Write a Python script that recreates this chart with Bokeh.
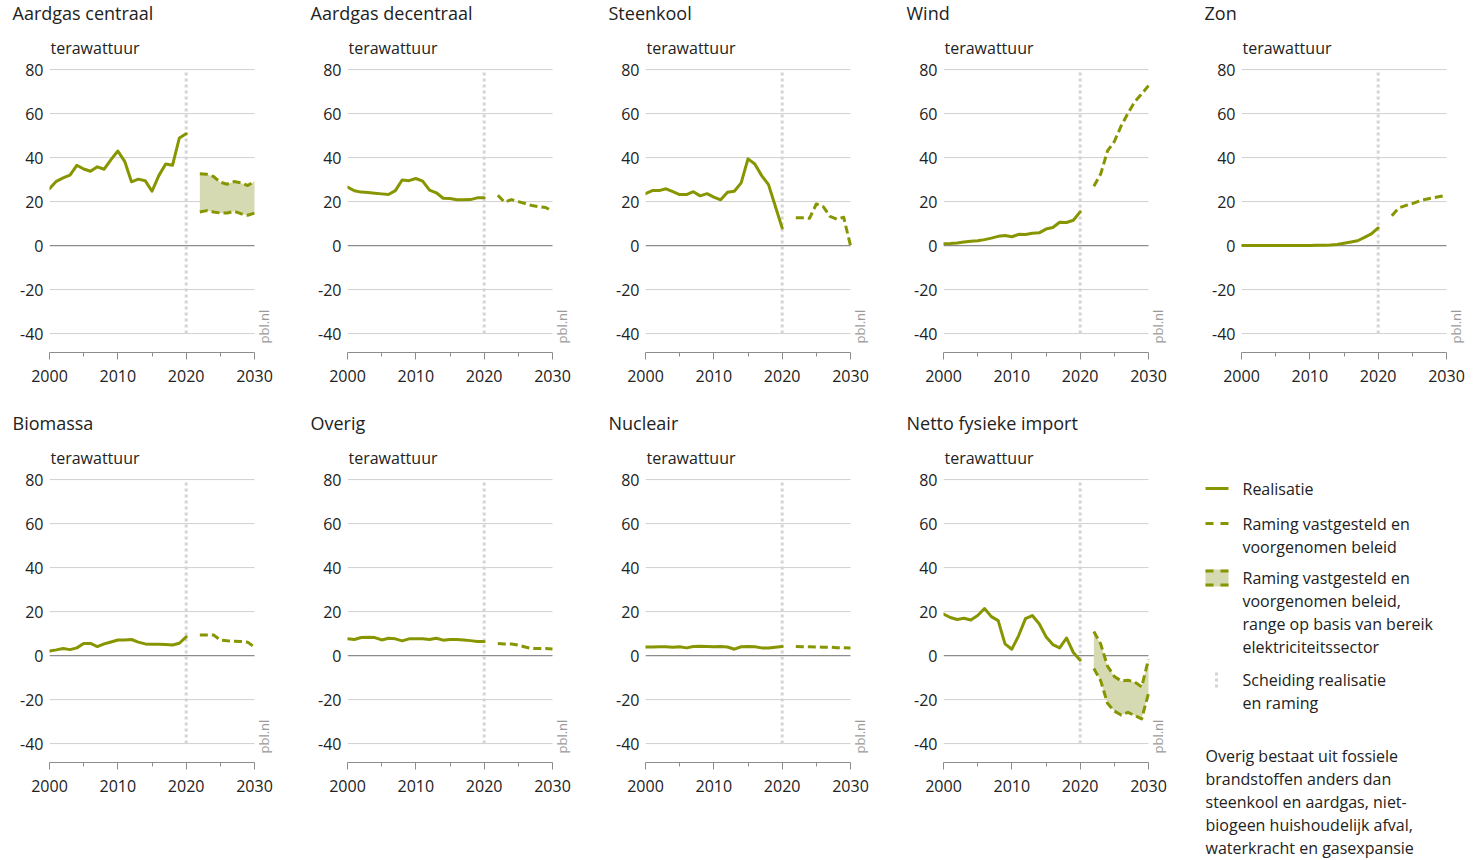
import math
from bokeh.plotting import figure
from bokeh.layouts import row, column
from bokeh.models import Range1d, Label, FixedTicker, Title
from bokeh.embed import file_html
from bokeh.resources import INLINE

FONT = "Open Sans"
GREEN = "#879600"
FILL = "#d6dab2"
TEXT = "#222222"
GRID = "#d0d0d0"
ZERO = "#8c8c8c"
SPLIT = "#d4d4d4"

YEARS_HIST = list(range(2000, 2021))
YEARS_PROJ = list(range(2022, 2031))
SPLIT_YEAR = 2020
X_START, X_STOP = 2000, 2030
X_TICKS = [2000, 2010, 2020, 2030]
X_MINOR = [2005, 2015, 2025]
Y_TICKS = [-40, -20, 0, 20, 40, 60, 80]
GRID_TICKS = [-40, -20, 20, 40, 60, 80]

titles = ["Aardgas centraal", "Aardgas decentraal", "Steenkool", "Wind", "Zon",
          "Biomassa", "Overig", "Nucleair", "Netto fysieke import"]

aardgas_centraal_hist = [25.9, 29.2, 30.8, 32.0, 36.5, 34.8, 33.8, 35.8, 34.7, 39.1, 43.0,
                         38.3, 29.0, 30.2, 29.5, 24.7, 31.8, 37.1, 36.5, 48.9, 50.8]
aardgas_centraal_hi = [32.6, 32.4, 31.4, 28.8, 27.9, 29.1, 28.5, 27.3, 29.2]
aardgas_centraal_lo = [15.3, 15.9, 15.3, 14.8, 14.8, 15.6, 14.5, 13.8, 14.8]

aardgas_decentraal_hist = [26.6, 24.9, 24.3, 24.1, 23.8, 23.5, 23.2, 25.0, 29.8, 29.5, 30.5,
                           29.3, 25.2, 24.0, 21.5, 21.4, 20.8, 20.8, 20.9, 21.7, 21.7]
aardgas_decentraal_proj = [22.9, 19.7, 20.9, 20.0, 19.1, 18.2, 17.7, 17.3, 15.6]

steenkool_hist = [23.6, 25.0, 25.0, 25.8, 24.5, 23.2, 23.2, 24.5, 22.6, 23.6, 22.0,
                  20.8, 24.2, 24.7, 28.5, 39.4, 37.1, 31.8, 27.7, 17.9, 8.0]
steenkool_proj = [12.7, 12.6, 12.4, 18.9, 17.7, 13.3, 12.0, 12.9, 0.0]

wind_hist = [0.8, 0.9, 1.2, 1.6, 2.0, 2.2, 2.7, 3.4, 4.2, 4.6, 4.0,
             5.1, 5.0, 5.6, 5.8, 7.5, 8.2, 10.6, 10.5, 11.5, 15.3]
wind_proj = [27.0, 32.5, 43.0, 47.3, 54.4, 60.2, 65.4, 68.9, 72.7]

zon_hist = [0.0, 0.0, 0.0, 0.0, 0.0, 0.0, 0.0, 0.05, 0.05, 0.05, 0.05,
            0.1, 0.2, 0.3, 0.5, 1.1, 1.6, 2.2, 3.7, 5.3, 8.0]
zon_proj = [13.6, 17.1, 18.2, 19.1, 20.2, 21.1, 21.7, 22.3, 22.9]

biomassa_hist = [2.1, 2.6, 3.2, 2.7, 3.5, 5.5, 5.5, 4.1, 5.3, 6.2, 7.1,
                 7.1, 7.3, 6.1, 5.3, 5.2, 5.2, 5.0, 4.8, 5.6, 8.5]
biomassa_proj = [9.4, 9.4, 9.4, 7.0, 6.7, 6.5, 6.4, 6.1, 3.8]

overig_hist = [7.6, 7.3, 8.2, 8.3, 8.2, 7.1, 7.9, 7.6, 6.7, 7.6, 7.7,
               7.7, 7.3, 7.9, 7.0, 7.3, 7.3, 7.1, 6.8, 6.4, 6.4]
overig_proj = [5.5, 5.3, 5.3, 4.8, 3.9, 3.2, 3.2, 3.2, 3.0]

nucleair_hist = [3.9, 3.9, 4.0, 4.0, 3.8, 4.0, 3.5, 4.1, 4.2, 4.1, 4.0,
                 4.1, 3.9, 2.9, 4.0, 4.1, 4.0, 3.5, 3.4, 3.8, 4.1]
nucleair_proj = [4.1, 4.0, 4.0, 3.9, 3.8, 3.8, 3.6, 3.6, 3.5]

import_hist = [18.9, 17.3, 16.4, 17.0, 16.2, 18.2, 21.4, 17.7, 15.9, 5.3, 2.9,
               9.1, 16.8, 18.2, 14.5, 8.6, 5.0, 3.5, 8.0, 1.4, -2.1]
import_hi = [10.9, 5.3, -4.8, -9.5, -11.5, -11.2, -12.1, -14.2, -1.7]
import_lo = [-5.9, -11.4, -21.7, -25.2, -27.0, -25.8, -27.3, -28.8, -17.1]

legend_labels = [["Realisatie"],
                 ["Raming vastgesteld en", "voorgenomen beleid"],
                 ["Raming vastgesteld en", "voorgenomen beleid,",
                  "range op basis van bereik", "elektriciteitssector"],
                 ["Scheiding realisatie", "en raming"]]
note_lines = ["Overig bestaat uit fossiele", "brandstoffen anders dan",
              "steenkool en aardgas, niet-", "biogeen huishoudelijk afval,",
              "waterkracht en gasexpansie"]

# layout constants (pixels)
PANEL_H = 410
BORDER_L = 49
BORDER_T = 26
BORDER_B = 58
FRAME_W = 205
PX_PER_YEAR = FRAME_W / (X_STOP - X_START)
PX_PER_UNIT = 2.2
Y_MIN = -48.6
Y_TOP = Y_MIN + (PANEL_H - BORDER_T - BORDER_B) / PX_PER_UNIT


def panel(title, hist, proj=None, lo=None, hi=None, width=298):
    x_end = X_STOP + (width - BORDER_L - FRAME_W) / PX_PER_YEAR
    p = figure(width=width, height=PANEL_H, x_range=Range1d(X_START, x_end),
               y_range=Range1d(Y_MIN, Y_TOP), output_backend="svg",
               toolbar_location=None, title=None,
               min_border_left=BORDER_L, min_border_right=0,
               min_border_top=BORDER_T, min_border_bottom=BORDER_B)
    p.outline_line_color = None
    p.background_fill_color = "white"
    p.border_fill_color = "white"
    p.xgrid.visible = False
    p.ygrid.visible = False

    xa = p.xaxis[0]
    xa.bounds = (X_START, X_STOP)
    xa.ticker = FixedTicker(ticks=X_TICKS, minor_ticks=X_MINOR)
    xa.axis_line_color = ZERO
    xa.major_tick_line_color = ZERO
    xa.minor_tick_line_color = ZERO
    xa.major_tick_in = 0
    xa.major_tick_out = 7
    xa.minor_tick_in = 0
    xa.minor_tick_out = 4
    xa.major_label_standoff = 10
    xa.major_label_text_font = FONT
    xa.major_label_text_font_size = "16px"
    xa.major_label_text_color = TEXT

    ya = p.yaxis[0]
    ya.ticker = FixedTicker(ticks=Y_TICKS)
    ya.axis_line_color = None
    ya.major_tick_line_color = None
    ya.minor_tick_line_color = None
    ya.major_tick_out = 0
    ya.major_tick_in = 0
    ya.minor_tick_out = 0
    ya.minor_tick_in = 0
    ya.major_label_standoff = 6
    ya.major_label_overrides = {t: str(t) for t in Y_TICKS}
    ya.major_label_text_font = FONT
    ya.major_label_text_font_size = "16px"
    ya.major_label_text_color = TEXT

    # horizontal grid lines limited to the year span
    n = len(GRID_TICKS)
    p.segment(x0=[X_START] * n, x1=[X_STOP] * n, y0=GRID_TICKS, y1=GRID_TICKS,
              line_color=GRID, line_width=1)
    p.segment(x0=[X_START], x1=[X_STOP], y0=[0], y1=[0],
              line_color=ZERO, line_width=1.3)
    p.segment(x0=[SPLIT_YEAR], y0=[Y_TICKS[0]], x1=[SPLIT_YEAR], y1=[Y_TICKS[-1]],
              line_color=SPLIT, line_width=3, line_dash="3 3")

    if lo is not None and hi is not None:
        p.varea(x=YEARS_PROJ, y1=lo, y2=hi, fill_color=FILL)
        for arr in (lo, hi):
            p.line(YEARS_PROJ, arr, line_color=GREEN, line_width=3,
                   line_dash="8 4", line_join="round")
    if proj is not None:
        p.line(YEARS_PROJ, proj, line_color=GREEN, line_width=3,
               line_dash="8 4", line_join="round")
    p.line(YEARS_HIST, hist, line_color=GREEN, line_width=3,
           line_join="round", line_cap="round")

    p.add_layout(Title(text=title, align="left", offset=-37, text_font=FONT,
                       text_font_size="18px", text_font_style="normal",
                       vertical_align="top", standoff=0,
                       text_color=TEXT), "above")
    p.add_layout(Label(x=X_START, y=Y_TICKS[-1], x_offset=1, y_offset=22,
                       text="terawattuur", text_font=FONT, text_font_size="16px",
                       text_color=TEXT, text_baseline="alphabetic"))
    p.add_layout(Label(x=X_STOP, y=-44.5, x_offset=9, angle=math.pi / 2,
                       text="pbl.nl", text_font=FONT, text_font_size="13px",
                       text_color="#9a9a9a", text_baseline="middle",
                       text_align="left"))
    return p


def legend_fig(width=285, height=450):
    p = figure(width=width, height=height, x_range=Range1d(0, width),
               y_range=Range1d(height, 0), output_backend="svg",
               toolbar_location=None, x_axis_type=None, y_axis_type=None,
               title=None, min_border=0, min_border_left=0, min_border_right=0,
               min_border_top=0, min_border_bottom=0)
    p.outline_line_color = None
    p.xgrid.visible = False
    p.ygrid.visible = False
    sx0, sx1 = 13, 36
    p.line([sx0, sx1], [78, 78], line_color=GREEN, line_width=3)
    p.line([sx0, sx1], [113, 113], line_color=GREEN, line_width=3, line_dash="8 7")
    p.quad(left=[sx0], right=[sx1], top=[159], bottom=[176], fill_color=FILL,
           line_color=None)
    p.line([sx0, sx1], [160.5, 160.5], line_color=GREEN, line_width=3, line_dash="8 7")
    p.line([sx0, sx1], [174.5, 174.5], line_color=GREEN, line_width=3, line_dash="8 7")
    p.line([24, 24], [262, 279], line_color=SPLIT, line_width=3, line_dash="3 3")

    starts = [78, 113, 167, 269]
    for lines, y0 in zip(legend_labels, starts):
        for i, t in enumerate(lines):
            p.add_layout(Label(x=50, y=y0 + 23 * i, text=t, text_font=FONT,
                               text_font_size="16px", text_color=TEXT,
                               text_baseline="middle"))
    for i, t in enumerate(note_lines):
        p.add_layout(Label(x=13, y=345 + 23 * i, text=t, text_font=FONT,
                           text_font_size="16px", text_color=TEXT,
                           text_baseline="middle"))
    return p


p1 = panel(titles[0], aardgas_centraal_hist, lo=aardgas_centraal_lo, hi=aardgas_centraal_hi)
p2 = panel(titles[1], aardgas_decentraal_hist, proj=aardgas_decentraal_proj)
p3 = panel(titles[2], steenkool_hist, proj=steenkool_proj)
p4 = panel(titles[3], wind_hist, proj=wind_proj)
p5 = panel(titles[4], zon_hist, proj=zon_proj, width=285)
p6 = panel(titles[5], biomassa_hist, proj=biomassa_proj)
p7 = panel(titles[6], overig_hist, proj=overig_proj)
p8 = panel(titles[7], nucleair_hist, proj=nucleair_proj)
p9 = panel(titles[8], import_hist, lo=import_lo, hi=import_hi)
leg = legend_fig()

layout = column(row(p1, p2, p3, p4, p5), row(row(p6, p7, p8, p9), leg))
open("out.html", "w").write(file_html(layout, INLINE))
